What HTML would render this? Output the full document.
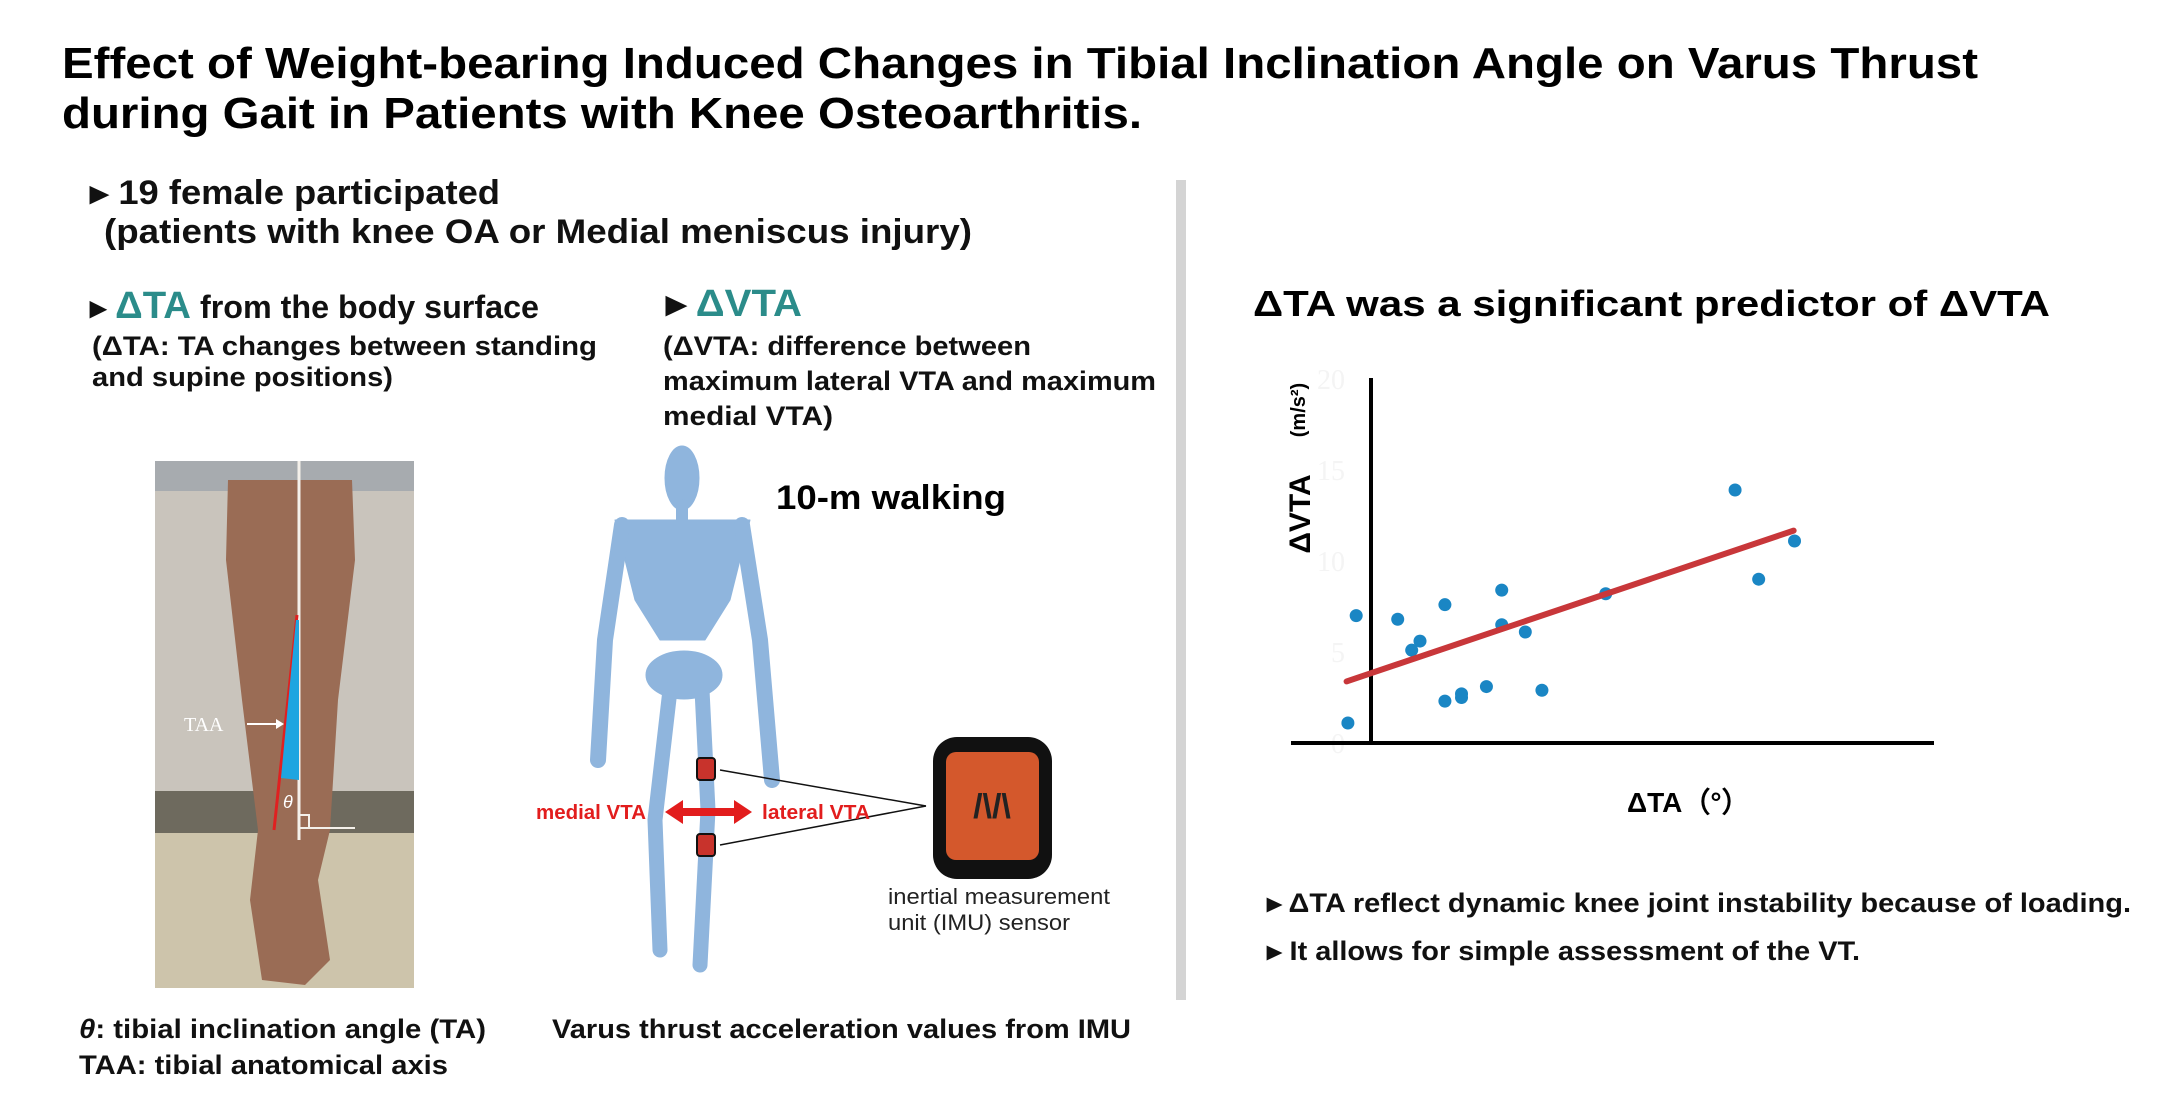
<!DOCTYPE html>
<html><head><meta charset="utf-8"><style>
html,body{margin:0;padding:0;background:#fff;}
svg{display:block;font-family:"Liberation Sans",Arial,sans-serif;}
</style></head><body>
<svg id="page" width="2165" height="1100" viewBox="0 0 2165 1100" xmlns="http://www.w3.org/2000/svg">
<rect width="2165" height="1100" fill="#fff"/>
<g font-weight="bold" font-size="44" fill="#000">
<text x="62" y="78" textLength="1916" lengthAdjust="spacingAndGlyphs">Effect of Weight-bearing Induced Changes in Tibial Inclination Angle on Varus Thrust</text>
<text x="62" y="128" textLength="1080" lengthAdjust="spacingAndGlyphs">during Gait in Patients with Knee Osteoarthritis.</text>
</g>
<g font-weight="bold" font-size="34" fill="#111">
<text x="90" y="204" textLength="410" lengthAdjust="spacingAndGlyphs">▸ 19 female participated</text>
<text x="104" y="243" textLength="868" lengthAdjust="spacingAndGlyphs">(patients with knee OA or Medial meniscus injury)</text>
</g>
<g font-weight="bold" fill="#111">
<text x="90" y="318" font-size="32" textLength="449" lengthAdjust="spacingAndGlyphs">▸ <tspan fill="#2b8c8a" font-size="38">ΔTA</tspan> from the body surface</text>
<text x="92" y="355" font-size="27" textLength="505" lengthAdjust="spacingAndGlyphs">(ΔTA: TA changes between standing</text>
<text x="92" y="386" font-size="27" textLength="301" lengthAdjust="spacingAndGlyphs">and supine positions)</text>
</g>
<g font-weight="bold" fill="#111">
<text x="666" y="316" font-size="38" textLength="136" lengthAdjust="spacingAndGlyphs">▸ <tspan fill="#2b8c8a">ΔVTA</tspan></text>
<text x="663" y="355" font-size="27" textLength="368" lengthAdjust="spacingAndGlyphs">(ΔVTA: difference between</text>
<text x="663" y="390" font-size="27" textLength="493" lengthAdjust="spacingAndGlyphs">maximum lateral VTA and maximum</text>
<text x="663" y="425" font-size="27" textLength="170" lengthAdjust="spacingAndGlyphs">medial VTA)</text>
</g>
<rect x="1176" y="180" width="10" height="820" fill="#d4d4d4"/>

<g>
<rect x="155" y="461" width="259" height="330" fill="#c9c4bc"/>
<rect x="155" y="791" width="259" height="42" fill="#6e6a5e"/>
<rect x="155" y="833" width="259" height="155" fill="#cdc4ab"/>
<rect x="155" y="461" width="259" height="30" fill="#a7abaf"/>
<path d="M228 480 L352 480 L355 560 L338 700 L330 830 L318 880 L330 960 L305 985 L262 980 L250 900 L258 830 L242 700 L226 560 Z" fill="#9a6c55"/>
<line x1="299" y1="461" x2="299" y2="840" stroke="#f4f0ea" stroke-width="3"/>
<line x1="299" y1="828" x2="355" y2="828" stroke="#f4f0ea" stroke-width="2"/>
<path d="M299 815 h10 v13" fill="none" stroke="#f4f0ea" stroke-width="2"/>
<line x1="297" y1="615" x2="274" y2="830" stroke="#e02020" stroke-width="3"/>
<polygon points="296,620 299,620 299,780 281,778" fill="#1ea5e0"/>
<text x="184" y="731" font-family="Liberation Serif,serif" font-size="20" fill="#fff">TAA</text>
<line x1="247" y1="724" x2="276" y2="724" stroke="#fff" stroke-width="2"/>
<polygon points="276,719 284,724 276,729" fill="#fff"/>
<text x="283" y="808" font-size="18" font-style="italic" fill="#fff">θ</text>
</g>

<g fill="#8fb5dd" stroke="#8fb5dd" stroke-linecap="round" stroke-linejoin="round">
<ellipse cx="682" cy="478" rx="17" ry="32"/>
<line x1="682" y1="505" x2="682" y2="530" stroke-width="12"/>
<path d="M615 520 L750 520 L730 600 L705 640 L660 640 L635 600 Z"/>
<ellipse cx="684" cy="675" rx="38" ry="24"/>
<polyline points="622,525 605,640 598,760" fill="none" stroke-width="16"/>
<polyline points="742,525 760,640 772,780" fill="none" stroke-width="16"/>
<polyline points="670,690 655,820 660,950" fill="none" stroke-width="15"/>
<polyline points="702,690 708,810 700,965" fill="none" stroke-width="15"/>
</g>
<text x="776" y="509" font-weight="bold" font-size="34" textLength="230" lengthAdjust="spacingAndGlyphs">10-m walking</text>
<g>
<rect x="697" y="758" width="18" height="22" rx="3" fill="#c8332c" stroke="#111" stroke-width="2"/>
<rect x="697" y="834" width="18" height="22" rx="3" fill="#c8332c" stroke="#111" stroke-width="2"/>
<line x1="926" y1="806" x2="720" y2="770" stroke="#111" stroke-width="1.5"/>
<line x1="926" y1="806" x2="720" y2="845" stroke="#111" stroke-width="1.5"/>
<polygon points="665,812 683,800 683,824" fill="#e21d1d"/>
<polygon points="752,812 734,800 734,824" fill="#e21d1d"/>
<rect x="681" y="808" width="55" height="8" fill="#e21d1d"/>
<text x="536" y="819" font-weight="bold" font-size="20" fill="#e21d1d" textLength="110" lengthAdjust="spacingAndGlyphs">medial VTA</text>
<text x="762" y="819" font-weight="bold" font-size="20" fill="#e21d1d" textLength="108" lengthAdjust="spacingAndGlyphs">lateral VTA</text>
</g>
<g>
<rect x="933" y="737" width="119" height="142" rx="24" fill="#111"/>
<rect x="946" y="752" width="93" height="108" rx="10" fill="#d4582c"/>
<text x="992" y="818" text-anchor="middle" font-size="34" font-weight="bold" fill="#222">/\/\</text>
<text x="888" y="904" font-size="22" fill="#222" textLength="222" lengthAdjust="spacingAndGlyphs">inertial measurement</text>
<text x="888" y="930" font-size="22" fill="#222" textLength="182" lengthAdjust="spacingAndGlyphs">unit (IMU) sensor</text>
</g>
<g font-weight="bold" font-size="27" fill="#111">
<text x="79" y="1038" textLength="407" lengthAdjust="spacingAndGlyphs"><tspan font-style="italic">θ</tspan>: tibial inclination angle (TA)</text>
<text x="79" y="1074" textLength="369" lengthAdjust="spacingAndGlyphs">TAA: tibial anatomical axis</text>
<text x="552" y="1038" textLength="579" lengthAdjust="spacingAndGlyphs">Varus thrust acceleration values from IMU</text>
</g>
<text x="1253" y="316" font-weight="bold" font-size="36" textLength="797" lengthAdjust="spacingAndGlyphs">ΔTA was a significant predictor of ΔVTA</text>
<g id="chart"></g>
<g font-weight="bold" font-size="27" fill="#111">
<text x="1267" y="912" textLength="864" lengthAdjust="spacingAndGlyphs">▸ ΔTA reflect dynamic knee joint instability because of loading.</text>
<text x="1267" y="960" textLength="593" lengthAdjust="spacingAndGlyphs">▸ It allows for simple assessment of the VT.</text>
</g>
</svg>
<script>
const xValues = [-0.46,-0.27,0.68,1.0,1.19,1.76,1.76,2.14,2.14,2.71,3.06,3.06,3.6,3.98,5.44,8.4,8.94,9.76];
const yValues = [1.1,7.0,6.8,5.1,5.6,7.6,2.3,2.7,2.5,3.1,8.4,6.5,6.1,2.9,8.2,13.9,9.0,11.1];
const yTicks = [0,5,10,15,20];
const fitSlope = 0.81;
const fitIntercept = 3.78;
const fitRange = [-0.49,9.74];

const NS='http://www.w3.org/2000/svg';
const g=document.getElementById('chart');
const X0=1368, PXX=43.7, Y0=743, PXY=18.2, AXIS_X=1371;
const sx=v=>X0+v*PXX, sy=v=>Y0-v*PXY;
function mk(tag,attrs){const e=document.createElementNS(NS,tag);for(const k in attrs)e.setAttribute(k,attrs[k]);g.appendChild(e);return e;}
yTicks.forEach(t=>{
  const e=mk('text',{x:1345,y:sy(t)+10,'text-anchor':'end','font-family':'Liberation Serif,serif','font-size':28,fill:'#f4f4f4'});
  e.textContent=t;
  
  
});
let a=mk('line',{x1:1291,y1:Y0,x2:1934,y2:Y0,stroke:'#000','stroke-width':4});


a=mk('line',{x1:AXIS_X,y1:378,x2:AXIS_X,y2:Y0,stroke:'#000','stroke-width':4});


xValues.forEach((v,i)=>{
  const c=mk('circle',{cx:sx(v),cy:sy(yValues[i]),r:6.5,fill:'#1a86c4'});
  
  
});
const fl=mk('line',{x1:sx(fitRange[0]),y1:sy(fitIntercept+fitSlope*fitRange[0]),x2:sx(fitRange[1]),y2:sy(fitIntercept+fitSlope*fitRange[1]),stroke:'#c8373a','stroke-width':6,'stroke-linecap':'round'});


let t=mk('text',{x:1310,y:514,'font-weight':'bold','font-size':30,'text-anchor':'middle',transform:'rotate(-90 1310 514)'});
t.textContent='ΔVTA';


t=mk('text',{x:1305,y:410,'font-weight':'bold','font-size':20,'text-anchor':'middle',transform:'rotate(-90 1305 410)'});
t.textContent='(m/s²)';


t=mk('text',{x:1627,y:812,'font-weight':'bold','font-size':28});
t.textContent='ΔTA（°）';


</script>
</body></html>
